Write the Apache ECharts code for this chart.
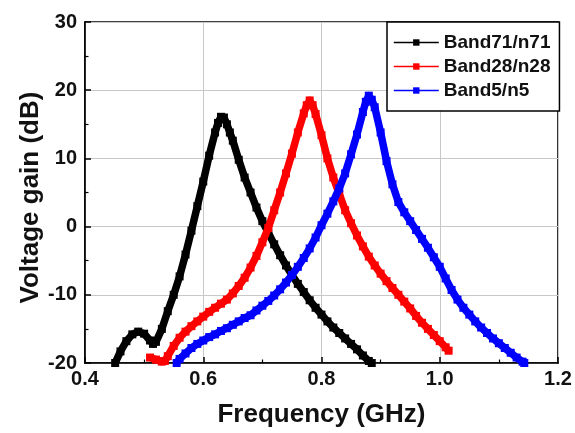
<!DOCTYPE html>
<html>
<head>
<meta charset="utf-8">
<title>Voltage gain vs frequency</title>
<script src="https://cdn.jsdelivr.net/npm/echarts@6/dist/echarts.min.js"></script>
<style>
  html, body { margin: 0; padding: 0; background: #ffffff; }
  #chart { width: 575px; height: 433px; }
</style>
</head>
<body>
<div id="chart"></div>
<script>
// Measured voltage gain (dB) against frequency (GHz) for three bands
const seriesNames = ['Band71/n71', 'Band28/n28', 'Band5/n5'];

const freqBand71 = [0.451, 0.46, 0.47, 0.48, 0.49, 0.50, 0.51, 0.515, 0.52, 0.53, 0.54, 0.55, 0.56, 0.57, 0.58, 0.59, 0.60, 0.61, 0.62, 0.625, 0.63, 0.635, 0.64, 0.645, 0.65, 0.66, 0.67, 0.68, 0.69, 0.70, 0.71, 0.72, 0.73, 0.74, 0.75, 0.76, 0.77, 0.78, 0.79, 0.80, 0.81, 0.82, 0.83, 0.84, 0.85, 0.86, 0.87, 0.88, 0.885];
const gainBand71 = [-20.0, -18.3, -16.8, -15.8, -15.4, -15.7, -16.7, -17.2, -16.9, -15.0, -12.4, -10.0, -7.3, -4.1, -0.6, 3.0, 6.6, 10.4, 13.8, 15.2, 16.1, 16.0, 15.0, 13.8, 12.6, 9.8, 7.2, 5.0, 2.8, 0.8, -0.9, -2.6, -4.2, -5.7, -7.1, -8.4, -9.6, -10.8, -11.9, -12.9, -13.9, -14.8, -15.6, -16.4, -17.2, -18.0, -18.9, -19.7, -20.0];

const freqBand28 = [0.51, 0.52, 0.53, 0.535, 0.54, 0.55, 0.56, 0.57, 0.58, 0.59, 0.60, 0.61, 0.62, 0.63, 0.64, 0.65, 0.66, 0.67, 0.68, 0.69, 0.70, 0.71, 0.72, 0.73, 0.74, 0.75, 0.76, 0.77, 0.775, 0.78, 0.785, 0.79, 0.80, 0.81, 0.82, 0.83, 0.84, 0.85, 0.86, 0.87, 0.88, 0.89, 0.90, 0.91, 0.92, 0.93, 0.94, 0.95, 0.96, 0.97, 0.98, 0.99, 1.00, 1.01, 1.015];
const gainBand28 = [-19.2, -19.5, -19.8, -19.7, -19.0, -17.5, -16.3, -15.4, -14.6, -13.9, -13.2, -12.5, -11.9, -11.3, -10.7, -9.8, -8.7, -7.5, -6.0, -4.3, -2.3, -0.2, 2.4, 5.0, 7.8, 10.7, 13.8, 16.6, 17.8, 18.5, 17.8, 16.5, 13.4, 10.0, 7.2, 4.8, 2.4, 0.5, -1.3, -2.9, -4.4, -5.7, -6.9, -8.0, -9.0, -10.0, -11.0, -12.0, -13.1, -14.1, -15.0, -15.9, -16.8, -17.7, -18.2];

const freqBand5 = [0.555, 0.56, 0.57, 0.58, 0.59, 0.60, 0.61, 0.62, 0.63, 0.64, 0.65, 0.66, 0.67, 0.68, 0.69, 0.70, 0.71, 0.72, 0.73, 0.74, 0.75, 0.76, 0.77, 0.78, 0.79, 0.80, 0.81, 0.82, 0.83, 0.84, 0.85, 0.86, 0.87, 0.875, 0.88, 0.885, 0.89, 0.90, 0.91, 0.92, 0.93, 0.94, 0.95, 0.96, 0.97, 0.98, 0.99, 1.00, 1.01, 1.02, 1.03, 1.04, 1.05, 1.06, 1.07, 1.08, 1.09, 1.10, 1.11, 1.12, 1.13, 1.14, 1.143];
const gainBand5 = [-20.0, -19.4, -18.6, -17.8, -17.2, -16.7, -16.2, -15.8, -15.3, -14.9, -14.4, -13.9, -13.4, -13.0, -12.3, -11.6, -10.9, -10.1, -9.2, -8.2, -7.1, -5.9, -4.6, -3.2, -1.6, 0.2, 1.9, 3.7, 5.6, 7.8, 10.6, 13.5, 16.8, 18.3, 19.2, 18.6, 17.5, 13.8, 9.6, 6.2, 3.6, 2.1, 0.8, -0.5, -1.8, -3.1, -4.5, -5.9, -7.6, -9.3, -10.7, -11.9, -12.9, -13.9, -14.8, -15.6, -16.4, -17.1, -17.8, -18.5, -19.2, -19.8, -20.0];

const seriesColors = ['#000000', '#ff0000', '#0000ff'];

// Axis ranges and tick steps
const xMin = 0.4, xMax = 1.2, xStep = 0.2;
const yMin = -20, yMax = 30, yStep = 10;

const pairs = (xs, ys) => xs.map((x, i) => [x, ys[i]]);
const seriesData = [
  pairs(freqBand71, gainBand71),
  pairs(freqBand28, gainBand28),
  pairs(freqBand5, gainBand5)
];

const FONT = '"Liberation Sans", Arial, Helvetica, sans-serif';

const axisCommon = {
  axisLine: { show: true, onZero: false, lineStyle: { color: '#000', width: 1.6 } },
  axisTick: { show: true, inside: true, length: 6, lineStyle: { color: '#000', width: 1.5 } },
  minorTick: { show: true, splitNumber: 2, length: 3.5, lineStyle: { color: '#000', width: 1.2 } },
  splitLine: { show: true, lineStyle: { color: '#c8c8c8', width: 1 } },
  axisLabel: { color: '#111', fontFamily: FONT, fontWeight: 'bold', fontSize: 20 },
  nameTextStyle: { color: '#111', fontFamily: FONT, fontWeight: 'bold', fontSize: 26 }
};

const chart = echarts.init(document.getElementById('chart'), null, { renderer: 'canvas' });

chart.setOption({
  animation: false,
  backgroundColor: '#ffffff',
  grid: {
    left: 85, right: 17, top: 22, bottom: 70,
    show: true, borderColor: '#000', borderWidth: 1.6, backgroundColor: 'transparent'
  },
  xAxis: Object.assign({}, axisCommon, {
    type: 'value',
    min: xMin, max: xMax, interval: xStep,
    name: 'Frequency (GHz)',
    nameLocation: 'middle',
    nameGap: 39,
    nameMoveOverlap: false,
    axisLabel: Object.assign({}, axisCommon.axisLabel, {
      margin: 6,
      formatter: v => v.toFixed(1)
    })
  }),
  yAxis: Object.assign({}, axisCommon, {
    type: 'value',
    min: yMin, max: yMax, interval: yStep,
    name: 'Voltage gain (dB)',
    nameLocation: 'middle',
    nameGap: 41,
    nameMoveOverlap: false,
    nameTextStyle: Object.assign({}, axisCommon.nameTextStyle, { padding: [0, 10, 0, 0] }),
    axisLabel: Object.assign({}, axisCommon.axisLabel, { margin: 8 })
  }),
  legend: {
    data: seriesNames,
    orient: 'vertical',
    left: 387,
    top: 22,
    padding: [11, 9, 11, 6],
    itemWidth: 45,
    itemHeight: 8,
    itemGap: 5,
    backgroundColor: '#ffffff',
    borderColor: '#000',
    borderWidth: 1.5,
    borderRadius: 0,
    lineStyle: { width: 1.6 },
    textStyle: { color: '#111', fontFamily: FONT, fontWeight: 'bold', fontSize: 19 }
  },
  series: seriesNames.map((name, i) => ({
    name: name,
    type: 'line',
    data: seriesData[i],
    symbol: 'rect',
    symbolSize: 8,
    showSymbol: true,
    clip: true,
    lineStyle: { color: seriesColors[i], width: 7.5, join: 'round' },
    itemStyle: { color: seriesColors[i] },
    emphasis: { disabled: true },
    z: 3 + i
  }))
});
</script>
</body>
</html>
